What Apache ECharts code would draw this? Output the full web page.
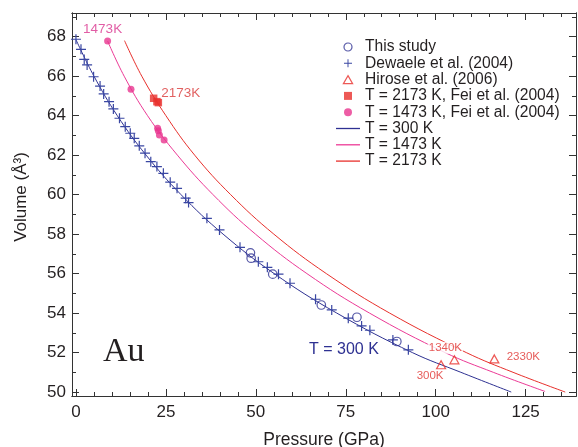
<!DOCTYPE html>
<html>
<head>
<meta charset="utf-8">
<script src="https://cdn.jsdelivr.net/npm/echarts@6/dist/echarts.min.js"></script>
<style>
html,body{margin:0;padding:0;background:#fff;}
#chart{width:578px;height:447px;}
</style>
</head>
<body>
<div id="chart"></div>
<script>
// ---- data ----
const xMajorTicks = [0, 25, 50, 75, 100, 125];
const xMinorTicks = [5, 10, 15, 20, 30, 35, 40, 45, 55, 60, 65, 70, 80, 85, 90, 95, 105, 110, 115, 120, 130, 135];
const yMajorTicks = [50, 52, 54, 56, 58, 60, 62, 64, 66, 68];
const yMinorTicks = [51, 53, 55, 57, 59, 61, 63, 65, 67, 69];

const thisStudyP = [48.5, 48.7, 54.7, 68.2, 78.1, 89.2];
const thisStudyV = [57.05, 56.78, 55.97, 54.41, 53.79, 52.56];

const dewaeleP = [0.0, 1.4, 2.3, 3.1, 4.9, 6.7, 7.7, 9.2, 10.4, 12.1, 13.7, 15.1, 16.2, 17.6, 19.2, 20.8, 22.5, 24.3, 26.2, 28.1, 30.5, 31.3, 36.4, 39.9, 45.6, 50.7, 53.2, 56.3, 59.5, 66.6, 71.1, 75.7, 79.4, 81.7, 88.1, 92.4];
const dewaeleV = [67.87, 67.36, 66.85, 66.57, 65.97, 65.5, 65.1, 64.71, 64.34, 63.87, 63.44, 63.11, 62.85, 62.47, 62.1, 61.67, 61.42, 61.08, 60.63, 60.32, 59.82, 59.6, 58.8, 58.21, 57.33, 56.6, 56.32, 55.97, 55.51, 54.7, 54.16, 53.74, 53.35, 53.13, 52.64, 52.14];

const hiroseP = [101.5, 105.2, 116.3];
const hiroseV = [51.38, 51.63, 51.68];
const hiroseLabels = ['300K', '1340K', '2330K'];

const fei2173P = [21.6, 22.5, 22.9];
const fei2173V = [64.88, 64.71, 64.66];

const fei1473P = [8.8, 15.3, 22.7, 22.9, 23.2, 24.5];
const fei1473V = [67.78, 65.34, 63.36, 63.23, 63.02, 62.77];

const curve300P = [0, 5.0, 11.5, 19.5, 29.2, 40.9, 55.1, 72.5, 93.5, 107, 121];
const curve300V = [67.85, 66, 64, 62, 60, 58, 56, 54, 52, 51, 50.0];
const curve1473P = [8.8, 13.4, 19.9, 28.2, 38.1, 49.9, 64.2, 81.6, 102.6, 116, 130.4];
const curve1473V = [67.78, 66, 64, 62, 60, 58, 56, 54, 52, 51, 50.03];
const curve2173P = [13.5, 18.3, 25.0, 33.0, 43.0, 55.0, 69.6, 87.2, 108.5, 121.5, 136];
const curve2173V = [67.8, 66, 64, 62, 60, 58, 56, 54, 52, 51, 50.0];

// ---- styling ----
const FONT = '"Liberation Sans", Arial, Helvetica, sans-serif';
const AXIS = '#333333';
const TEXT = '#231f20';
const BLUE = '#2e3192';
const CROSS = '#3a47a3';
const PINK = '#ec3a96';
const RED = '#e8302c';
const PLUS = 'path://M4.4,0H5.6V4.4H10V5.6H5.6V10H4.4V5.6H0V4.4H4.4Z';
const TRI = 'path://M5,0L10,8.66L0,8.66Z';
const SQ = 'path://M0,0H10V10H0Z';
const LINEICON = 'path://M0,0H24V1.3H0Z';

const zip = (a, b) => a.map((v, i) => [v, b[i]]);

function xAx(pos, vals, len, showLabels) {
  return {
    type: 'value', gridIndex: 0, position: pos, min: -1.1, max: 139,
    axisLine: { show: true, onZero: false, lineStyle: { color: AXIS, width: 1 } },
    axisTick: { show: true, inside: true, length: len, customValues: vals, lineStyle: { color: AXIS, width: 1 } },
    axisLabel: { show: showLabels, customValues: vals, fontFamily: FONT, fontSize: 17, color: TEXT, margin: 8 },
    splitLine: { show: false }
  };
}
function yAx(pos, vals, len, showLabels) {
  return {
    type: 'value', gridIndex: 0, position: pos, min: 49.8, max: 69.2,
    axisLine: { show: true, onZero: false, lineStyle: { color: AXIS, width: 1 } },
    axisTick: { show: true, inside: true, length: len, customValues: vals, lineStyle: { color: AXIS, width: 1 } },
    axisLabel: { show: showLabels, customValues: vals, fontFamily: FONT, fontSize: 17, color: TEXT, margin: 6 },
    splitLine: { show: false }
  };
}

const hiroseOffsets = [[-11, 11], [-9, -12], [29, -2]];

const chart = echarts.init(document.getElementById('chart'), null, { renderer: 'canvas' });
chart.setOption({
  animation: false,
  backgroundColor: '#ffffff',
  grid: { left: 72, right: 2, top: 13, bottom: 51, containLabel: false },
  xAxis: [
    xAx('bottom', xMajorTicks, 7, true),
    xAx('bottom', xMinorTicks, 4, false),
    xAx('top', xMajorTicks, 7, false),
    xAx('top', xMinorTicks, 4, false)
  ],
  yAxis: [
    yAx('left', yMajorTicks, 7, true),
    yAx('left', yMinorTicks, 4, false),
    yAx('right', yMajorTicks, 7, false),
    yAx('right', yMinorTicks, 4, false)
  ],
  legend: {
    orient: 'vertical', left: 336, top: 39, padding: 0,
    itemWidth: 24, itemHeight: 8, itemGap: 0.3,
    symbolKeepAspect: true,
    selectedMode: false,
    textStyle: { fontFamily: FONT, fontSize: 15.6, lineHeight: 15.7, color: TEXT },
    data: [
      { name: 'This study', icon: 'circle', itemStyle: { borderWidth: 1.2 } },
      { name: 'Dewaele et al. (2004)', icon: PLUS, itemStyle: { borderWidth: 0 } },
      { name: 'Hirose et al. (2006)', icon: TRI, itemStyle: { borderWidth: 1.2 } },
      { name: 'T = 2173 K, Fei et al. (2004)', icon: SQ, itemStyle: { borderWidth: 0 } },
      { name: 'T = 1473 K, Fei et al. (2004)', icon: 'circle', itemStyle: { borderWidth: 0 } },
      { name: 'T = 300 K', icon: LINEICON, itemStyle: { borderWidth: 0 } },
      { name: 'T = 1473 K', icon: LINEICON, itemStyle: { borderWidth: 0 } },
      { name: 'T = 2173 K', icon: LINEICON, itemStyle: { borderWidth: 0 } }
    ]
  },
  graphic: [
    { type: 'text', x: 21, y: 197, rotation: Math.PI / 2,
      style: { text: 'Volume (Å³)', font: '17px ' + FONT, fill: TEXT, align: 'center', verticalAlign: 'middle' } },
    { type: 'text', x: 324, y: 440,
      style: { text: 'Pressure (GPa)', font: '17.5px ' + FONT, fill: TEXT, align: 'center', verticalAlign: 'middle' } },
    { type: 'text', x: 103, y: 352,
      style: { text: 'Au', font: '34px "Liberation Serif", "Times New Roman", serif', fill: TEXT, align: 'left', verticalAlign: 'middle' } },
    { type: 'text', x: 309, y: 350,
      style: { text: 'T = 300 K', font: '16px ' + FONT, fill: BLUE, align: 'left', verticalAlign: 'middle' } }
  ],
  series: [
    { name: 'T = 300 K', type: 'line', data: zip(curve300P, curve300V), smooth: 0.4, symbol: 'none',
      lineStyle: { color: BLUE, width: 1 }, itemStyle: { color: BLUE }, silent: true, z: 2 },
    { name: 'T = 1473 K', type: 'line', data: zip(curve1473P, curve1473V), smooth: 0.4, symbol: 'none',
      lineStyle: { color: PINK, width: 1 }, itemStyle: { color: PINK }, silent: true, z: 2 },
    { name: 'T = 2173 K', type: 'line', data: zip(curve2173P, curve2173V), smooth: 0.4, symbol: 'none',
      lineStyle: { color: RED, width: 1 }, itemStyle: { color: RED }, silent: true, z: 2 },
    { name: 'Dewaele et al. (2004)', type: 'scatter', data: zip(dewaeleP, dewaeleV), symbol: PLUS, symbolSize: 10,
      itemStyle: { color: CROSS, opacity: 1 }, silent: true, z: 3 },
    { name: 'This study', type: 'scatter', data: zip(thisStudyP, thisStudyV), symbol: 'circle', symbolSize: 8.5,
      itemStyle: { color: 'rgba(255,255,255,0)', borderColor: BLUE, borderWidth: 1.2 }, silent: true, z: 4 },
    { name: 'Hirose et al. (2006)', type: 'scatter', symbol: 'triangle', symbolSize: [9, 8],
      data: hiroseP.map((p, i) => ({
        value: [p, hiroseV[i]],
        label: { show: true, formatter: hiroseLabels[i], position: 'inside', offset: hiroseOffsets[i],
          fontFamily: FONT, fontSize: 11.5, color: '#e0312e',
          backgroundColor: i === 1 ? '#ffffff' : 'transparent', padding: i === 1 ? [0, 1] : 0 }
      })),
      itemStyle: { color: 'rgba(255,255,255,0)', borderColor: RED, borderWidth: 1.2 }, silent: true, z: 5 },
    { name: 'T = 2173 K, Fei et al. (2004)', type: 'scatter', symbol: 'rect', symbolSize: 7.5,
      data: fei2173P.map((p, i) => ({
        value: [p, fei2173V[i]],
        label: { show: i === 0, formatter: '2173K', position: 'inside', offset: [27, -5],
          fontFamily: FONT, fontSize: 13.5, color: '#d93a3a' }
      })),
      itemStyle: { color: RED }, silent: true, z: 5 },
    { name: 'T = 1473 K, Fei et al. (2004)', type: 'scatter', symbol: 'circle', symbolSize: 7,
      data: fei1473P.map((p, i) => ({
        value: [p, fei1473V[i]],
        label: { show: i === 0, formatter: '1473K', position: 'inside', offset: [-5, -12],
          fontFamily: FONT, fontSize: 13.5, color: '#d9358f' }
      })),
      itemStyle: { color: '#e9358f' }, silent: true, z: 5 }
  ]
});
</script>
</body>
</html>
